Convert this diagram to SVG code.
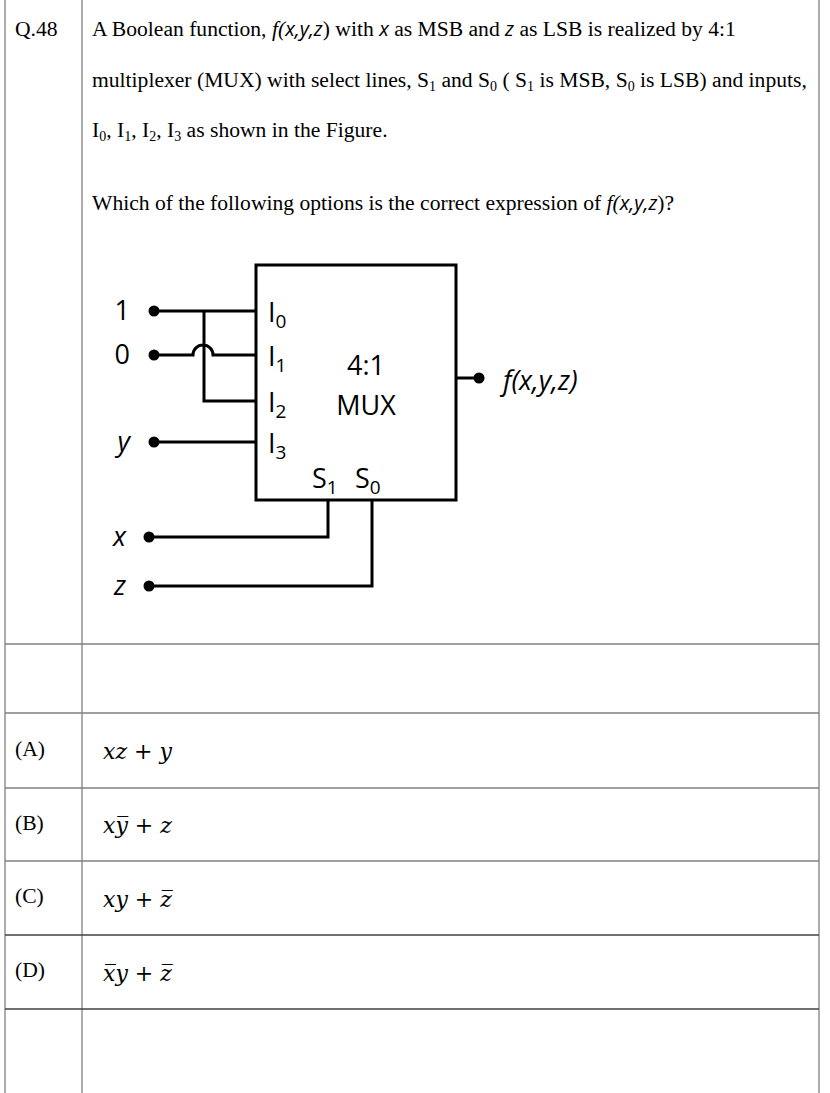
<svg xmlns="http://www.w3.org/2000/svg" width="830" height="1093" viewBox="0 0 830 1093">
<style>
.g{stroke:#808080;stroke-width:1.3;fill:none}
.k{stroke:#404040;stroke-width:1.3}
.t{font-family:"Liberation Serif",serif;font-size:21.6px;fill:#000}
.c{font-family:"Open Sans","Liberation Sans",sans-serif;font-size:27px;fill:#000}
.ci{font-family:"Open Sans","Liberation Sans",sans-serif;font-size:27px;font-style:italic;fill:#000}
.m{font-family:"DejaVu Serif",serif;font-size:22px;font-style:italic;fill:#000}
.w{stroke:#000;stroke-width:3;fill:none}
.d{fill:#000}
</style>
<rect width="830" height="1093" fill="#fff"/>
<g id="table">
<line class="g" x1="5" y1="0" x2="5" y2="1093"/>
<line class="g" x1="82" y1="0" x2="82" y2="1093"/>
<line class="g" x1="819" y1="0" x2="819" y2="1093"/>
<line class="g" x1="5" y1="644" x2="819" y2="644"/>
<line class="g" x1="5" y1="713" x2="819" y2="713"/>
<line class="g" x1="5" y1="788" x2="819" y2="788"/>
<line class="g" x1="5" y1="861" x2="819" y2="861"/>
<line class="k" x1="5" y1="935" x2="819" y2="935"/>
<line class="k" x1="5" y1="1009" x2="819" y2="1009"/>
</g>
<g id="question">
<text class="t" x="15" y="36">Q.48</text>
<text class="t" x="92" y="36">A Boolean function, <tspan font-style="italic">f(</tspan><tspan font-family="Open Sans" font-style="italic" font-size="20">x,y,z</tspan>)  with <tspan font-family="Open Sans" font-style="italic" font-size="20">x</tspan> as MSB and <tspan font-family="Open Sans" font-style="italic" font-size="20">z</tspan> as LSB is realized by 4:1</text>
<text class="t" x="92" y="87">multiplexer (MUX) with select lines, S<tspan font-size="14" dy="4">1</tspan><tspan dy="-4"> and S</tspan><tspan font-size="14" dy="4">0</tspan><tspan dy="-4"> ( S</tspan><tspan font-size="14" dy="4">1</tspan><tspan dy="-4"> is MSB, S</tspan><tspan font-size="14" dy="4">0</tspan><tspan dy="-4"> is LSB) and inputs,</tspan></text>
<text class="t" x="92" y="137">I<tspan font-size="14" dy="4">0</tspan><tspan dy="-4">, I</tspan><tspan font-size="14" dy="4">1</tspan><tspan dy="-4">, I</tspan><tspan font-size="14" dy="4">2</tspan><tspan dy="-4">, I</tspan><tspan font-size="14" dy="4">3</tspan><tspan dy="-4"> as shown in the Figure.</tspan></text>
<text class="t" x="92" y="210">Which of the following options is the correct expression of <tspan font-style="italic">f(</tspan><tspan font-family="Open Sans" font-style="italic" font-size="20">x,y,z</tspan>)?</text>
</g>
<g id="mux">
<rect class="w" x="256" y="265" width="200" height="235"/>
<text class="c" x="268" y="322">I<tspan font-size="19" dy="6">0</tspan></text>
<text class="c" x="268" y="366">I<tspan font-size="19" dy="6">1</tspan></text>
<text class="c" x="268" y="412">I<tspan font-size="19" dy="6">2</tspan></text>
<text class="c" x="268" y="453">I<tspan font-size="19" dy="6">3</tspan></text>
<text class="c" x="312" y="488">S<tspan font-size="19" dy="6">1</tspan></text>
<text class="c" x="355" y="488">S<tspan font-size="19" dy="6">0</tspan></text>
<text class="c" x="366" y="375" text-anchor="middle">4:1</text>
<text class="c" x="366" y="415" text-anchor="middle">MUX</text>
</g>
<g id="labels">
<text class="c" x="130" y="320" text-anchor="end">1</text>
<text class="c" x="130" y="364" text-anchor="end">0</text>
<text class="ci" x="130" y="451" text-anchor="end">y</text>
<text class="ci" x="126" y="546" text-anchor="end">x</text>
<text class="ci" x="126" y="595" text-anchor="end">z</text>
<text class="ci" x="503" y="390" font-size="29">f(x,y,z)</text>
</g>
<g id="connectors">
<path class="w" d="M154 311H256M204 311V401H256M154 355H193A10 10 0 0 1 213 355H256M154 442H256M456 378H478M328 500V537H149M372 500V586H149"/>
<circle class="d" cx="154" cy="311" r="5.5"/>
<circle class="d" cx="154" cy="355" r="5.5"/>
<circle class="d" cx="154" cy="442" r="5.5"/>
<circle class="d" cx="149" cy="537" r="5.5"/>
<circle class="d" cx="149" cy="586" r="5.5"/>
<circle class="d" cx="479" cy="378" r="5.5"/>
</g>
<g id="options">
<text class="t" x="15" y="756">(A)</text>
<text class="t" x="15" y="830">(B)</text>
<text class="t" x="15" y="903">(C)</text>
<text class="t" x="15" y="977">(D)</text>
<text class="m" x="103" y="759">xz + y</text>
<text class="m" x="103" y="833">xy̅ + z</text>
<text class="m" x="103" y="907">xy + z̅</text>
<text class="m" x="103" y="981">x̅y + z̅</text>
</g>
</svg>
